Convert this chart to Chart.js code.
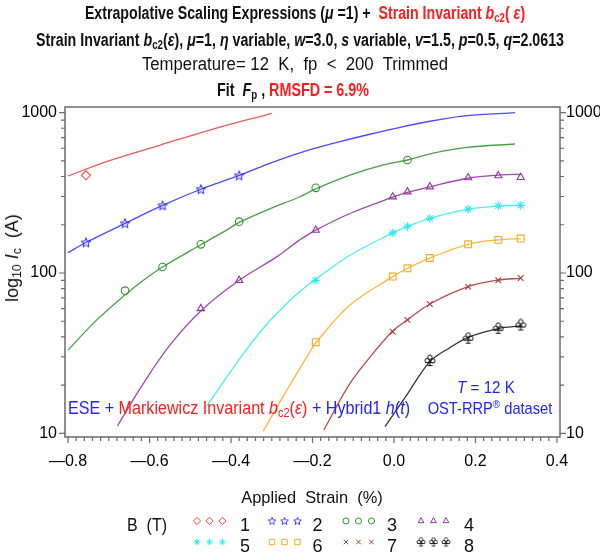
<!DOCTYPE html>
<html>
<head>
<meta charset="utf-8">
<script src="https://cdn.jsdelivr.net/npm/chart.js@4.4.1/dist/chart.umd.min.js"></script>
<style>
  html, body { margin: 0; padding: 0; background: #fff; }
  #wrap { position: relative; width: 600px; height: 553px; overflow: hidden;
          font-family: "Liberation Sans", Arial, sans-serif; }
  #chart { position: absolute; left: 0; top: 0; }
  .t { position: absolute; white-space: pre; line-height: 1; color: #111;
       transform-origin: 50% 50%; pointer-events: none; }
  .nb { font-family: "Liberation Sans Narrow", "Arial Narrow", "Liberation Sans", sans-serif; font-weight: bold; }
  .red { color: #ff1c1c; }
  .blue { color: #2323ff; }
  sub, sup { font-size: 68%; line-height: 0; }
  sub { vertical-align: -0.28em; }
  sup { vertical-align: 0.55em; }
</style>
</head>
<body>
<div id="wrap">
  <canvas id="chart" width="600" height="553"></canvas>

  <!-- titles -->
  <div class="t nb" data-cx="305" data-base="19" data-w="440" data-fs="18">Extrapolative Scaling Expressions (<i>μ</i> =1) +  <span class="red">Strain Invariant <i>b</i><sub>c2</sub>( <i>ε</i>)</span></div>
  <div class="t nb" data-cx="300" data-base="46" data-w="528" data-fs="18">Strain Invariant <i>b</i><sub>c2</sub>(<i>ε</i>), <i>μ</i>=1, <i>η</i> variable, <i>w</i>=3.0, <i>s</i> variable, <i>v</i>=1.5, <i>p</i>=0.5, <i>q</i>=2.0613</div>
  <div class="t" data-cx="295" data-base="70" data-w="306" data-fs="18">Temperature= 12  K,  fp  &lt;  200  Trimmed</div>
  <div class="t nb" data-cx="293" data-base="96" data-w="152" data-fs="18">Fit  <i>F</i><sub>p</sub> , <span class="red">RMSFD = 6.9%</span></div>

  <!-- annotations inside the plot -->
  <div class="t blue" data-cx="239" data-base="414" data-w="342" data-fs="18">ESE + <span class="red">Markiewicz Invariant <i>b</i><sub>c2</sub>(<i>ε</i>)</span> + Hybrid1 <i>h</i>(<i>t</i>)</div>
  <div class="t blue" data-cx="486" data-base="393" data-w="58" data-fs="17"><i>T</i> = 12 K</div>
  <div class="t blue" data-cx="490" data-base="414" data-w="125" data-fs="17">OST-RRP<sup>®</sup> dataset</div>

  <!-- axis titles -->
  <div class="t" data-cx="312" data-base="503" data-w="141" data-fs="17">Applied  Strain  (%)</div>
  <div class="t" id="ytitle" data-cx="11.5" data-cy="258" data-w="88" data-fs="18">log<sub>10</sub> <i>I</i><sub>c</sub>  (A)</div>

  <!-- legend text -->
  <div class="t" data-cx="147" data-base="531" data-w="40" data-fs="18">B  (T)</div>
  <div id="legendNums"></div>
</div>

<script>
// B fields (T)
const fieldLabels = ['1', '2', '3', '4', '5', '6', '7', '8'];

// measured points, applied strain (%) and Ic (A), one row per field
const measStrain = [
  [-0.756],
  [-0.756, -0.660, -0.568, -0.474, -0.380],
  [-0.660, -0.568, -0.474, -0.380, -0.192, 0.033],
  [-0.474, -0.380, -0.192, -0.003, 0.033, 0.088, 0.182, 0.256, 0.311],
  [-0.192, -0.003, 0.033, 0.088, 0.182, 0.256, 0.311],
  [-0.192, -0.003, 0.033, 0.088, 0.182, 0.256, 0.311],
  [-0.003, 0.033, 0.088, 0.182, 0.256, 0.311],
  [0.088, 0.182, 0.256, 0.311],
];
const measIc = [
  [407],
  [155, 204, 264, 333, 406],
  [77.6, 109, 151, 209, 340, 507],
  [60, 90, 185, 299, 321, 345, 393, 405, 395],
  [90, 178, 195, 219, 250, 262, 264],
  [37, 95, 107, 124, 151, 161, 164],
  [43, 51, 64, 82, 90, 93],
  [28.4, 39.2, 45.2, 47.4],
];

// fitted curves
const fitStrain = [
  [-0.80, -0.70, -0.574, -0.452, -0.30],
  [-0.80, -0.756, -0.66, -0.568, -0.474, -0.38, -0.31, -0.231, -0.149, -0.067, 0.015, 0.096, 0.178, 0.297],
  [-0.80, -0.738, -0.66, -0.615, -0.568, -0.474, -0.411, -0.38, -0.312, -0.231, -0.192, -0.108, -0.026, 0.033, 0.096, 0.178, 0.297],
  [-0.679, -0.615, -0.55, -0.474, -0.38, -0.288, -0.231, -0.192, -0.108, -0.003, 0.033, 0.088, 0.182, 0.256, 0.311],
  [-0.46, -0.394, -0.329, -0.263, -0.206, -0.192, -0.108, -0.003, 0.033, 0.088, 0.182, 0.256, 0.311],
  [-0.321, -0.263, -0.206, -0.192, -0.108, -0.003, 0.033, 0.088, 0.182, 0.256, 0.311],
  [-0.172, -0.108, -0.051, -0.003, 0.033, 0.088, 0.182, 0.256, 0.311],
  [-0.022, 0.031, 0.088, 0.137, 0.182, 0.256, 0.311],
];
const fitIc = [
  [403, 500, 628, 780, 991],
  [134, 155, 204, 264, 333, 406, 478, 562, 644, 726, 811, 891, 958, 1000],
  [33, 48.5, 73, 90, 109, 150, 185, 207, 247, 299, 335, 408, 472, 507, 559, 608, 638],
  [11.1, 20.5, 35.5, 58, 90, 126, 161, 185, 235, 297, 318, 345, 390, 408, 414],
  [14.7, 25.7, 42.7, 64.6, 86.3, 91.4, 129, 178, 195, 219, 250, 262, 264],
  [10.3, 18.6, 32.3, 36.7, 63.1, 94.9, 107, 124, 151, 161, 164],
  [10.5, 20.5, 31.6, 43.5, 51, 64.1, 82.3, 90.4, 92.7],
  [11.0, 17.3, 28.0, 34.2, 39.7, 45.0, 46.7],
];

const xTickValues = [-0.8, -0.6, -0.4, -0.2, 0, 0.2, 0.4];
const yTickValues = [10, 100, 1000];

// ---- styling ----
const markColors = ['#f04848', '#2424f0', '#2f942f', '#9634a6', '#2ee8ee', '#f7a92a', '#ac3c3c', '#111111'];
const lineColors = ['#ee5a5a', '#4a4aff', '#48a048', '#a048b0', '#48f2f2', '#ffb838', '#b44c4c', '#333333'];
const markRadius = [4.5, 5, 3.8, 4.2, 4.2, 4.8, 4, 5];

function makeStar(color) {
  const c = document.createElement('canvas');
  c.width = 12; c.height = 12;
  const g = c.getContext('2d');
  g.strokeStyle = color; g.lineWidth = 1;
  g.beginPath();
  for (let k = 0; k < 10; k++) {
    const r = k % 2 ? 2.1 : 5;
    const a = -Math.PI / 2 + k * Math.PI / 5;
    const px = 6 + r * Math.cos(a), py = 6.4 + r * Math.sin(a);
    k ? g.lineTo(px, py) : g.moveTo(px, py);
  }
  g.closePath(); g.stroke();
  return c;
}
function makeClub(color) {
  const c = document.createElement('canvas');
  c.width = 12; c.height = 13;
  const g = c.getContext('2d');
  g.strokeStyle = color; g.lineWidth = 1;
  [[6, 3.2], [3.2, 6.6], [8.8, 6.6]].forEach(([cx, cy]) => {
    g.beginPath(); g.arc(cx, cy, 2.2, 0, Math.PI * 2); g.stroke();
  });
  g.beginPath();
  g.moveTo(6, 5.5); g.lineTo(6, 11.5);
  g.moveTo(3.5, 11.5); g.lineTo(8.5, 11.5);
  g.moveTo(1.5, 8.5); g.lineTo(10.5, 8.5);
  g.stroke();
  return c;
}
const pointStyles = ['rectRot', makeStar(markColors[1]), 'circle', 'triangle', 'star', 'rect', 'crossRot', makeClub(markColors[7])];

const datasets = [];
measStrain.forEach((xs, i) => {
  datasets.push({
    label: 'B = ' + fieldLabels[i] + ' T',
    data: xs.map((x, j) => ({ x, y: measIc[i][j] })),
    showLine: false,
    pointStyle: pointStyles[i],
    pointRadius: markRadius[i],
    pointBorderColor: markColors[i],
    pointBackgroundColor: 'rgba(0,0,0,0)',
    pointBorderWidth: 1.1,
  });
});
fitStrain.forEach((xs, i) => {
  datasets.push({
    label: 'fit ' + fieldLabels[i],
    data: xs.map((x, j) => ({ x, y: fitIc[i][j] })),
    showLine: true,
    pointRadius: 0,
    borderColor: lineColors[i],
    borderWidth: 1.3,
    tension: 0.35,
  });
});

// legend marker positions (layout only)
const legendCols = [[197, 209.5, 222.5], [272, 284.5, 297.5], [346, 358.5, 371.5], [421, 433.5, 446]];
const legendRows = [521, 542];
const legendNumX = [245, 317.5, 392, 469];
const legendNumBase = [531, 552];

function drawMarker(ctx, style, color, r, x, y) {
  ctx.save();
  ctx.strokeStyle = color;
  ctx.fillStyle = 'rgba(0,0,0,0)';
  ctx.lineWidth = 1;
  if (style instanceof HTMLCanvasElement) {
    const s = 0.8;
    ctx.drawImage(style, x - style.width * s / 2, y - style.height * s / 2, style.width * s, style.height * s);
  } else if (Chart.helpers && Chart.helpers.drawPoint) {
    Chart.helpers.drawPoint(ctx, { pointStyle: style, radius: r, borderWidth: 1, rotation: 0 }, x, y);
  }
  ctx.restore();
}

const framePlugin = {
  id: 'frame',
  beforeDatasetsDraw(chart) {
    const { ctx, chartArea: a, scales } = chart;
    const xs = scales.x, ys = scales.y;
    ctx.save();
    ctx.strokeStyle = '#6a6a6a';
    ctx.lineWidth = 1.5;
    ctx.strokeRect(a.left, a.top, a.right - a.left, a.bottom - a.top);
    ctx.lineWidth = 1.2;
    ctx.beginPath();
    for (let dec = 10; dec <= 1000; dec *= 10) {
      for (let m = 1; m <= 9; m++) {
        const v = dec * m;
        if (v > 1000) break;
        const py = ys.getPixelForValue(v);
        const len = m === 1 ? 6 : 4;
        ctx.moveTo(a.left, py); ctx.lineTo(a.left - len, py);
        ctx.moveTo(a.right, py); ctx.lineTo(a.right + len, py);
      }
    }
    for (let k = -40; k <= 20; k++) {
      const px = xs.getPixelForValue(k * 0.02);
      const len = k % 10 === 0 ? 6 : 4;
      ctx.moveTo(px, a.bottom); ctx.lineTo(px, a.bottom + len);
    }
    ctx.stroke();
    ctx.restore();
  },
  afterDraw(chart) {
    const ctx = chart.ctx;
    legendRows.forEach((ry, row) => {
      legendCols.forEach((cols, col) => {
        const i = row * 4 + col;
        cols.forEach(cx => drawMarker(ctx, pointStyles[i], markColors[i], markRadius[i] * 0.8, cx, ry));
      });
    });
  },
};

const tickFont = { family: '"Liberation Sans", Arial, sans-serif', size: 16 };
const yCommon = {
  type: 'logarithmic',
  min: 9.48,
  max: 1085.5,
  grid: { display: false, drawTicks: false },
  border: { display: false },
  afterBuildTicks: (s) => { s.ticks = yTickValues.map(v => ({ value: v })); },
};

new Chart(document.getElementById('chart'), {
  type: 'scatter',
  data: { datasets },
  options: {
    responsive: false,
    devicePixelRatio: 1,
    animation: false,
    layout: { padding: { top: 107, bottom: 76, left: 0, right: 0 } },
    plugins: { legend: { display: false }, tooltip: { enabled: false }, title: { display: false } },
    scales: {
      x: {
        type: 'linear',
        min: -0.8074,
        max: 0.4074,
        grid: { display: false, drawTicks: false },
        border: { display: false },
        afterBuildTicks: (s) => { s.ticks = xTickValues.map(v => ({ value: v })); },
        afterFit: (s) => { s.height = 40; },
        ticks: {
          font: tickFont, color: '#000', padding: 15, autoSkip: false, maxRotation: 0,
          callback: (v) => (v < 0 ? '\u2014' : '') + Math.abs(v).toFixed(1),
        },
      },
      y: Object.assign({}, yCommon, {
        position: 'left',
        afterFit: (s) => { s.width = 65; },
        ticks: { font: tickFont, color: '#000', padding: 8, callback: (v) => String(v) },
      }),
      y2: Object.assign({}, yCommon, {
        position: 'right',
        afterFit: (s) => { s.width = 40; },
        ticks: { font: tickFont, color: '#000', padding: 6, callback: (v) => String(v) },
      }),
    },
  },
  plugins: [framePlugin],
});

// legend numbers
const numBox = document.getElementById('legendNums');
fieldLabels.forEach((lab, i) => {
  const d = document.createElement('div');
  d.className = 't';
  d.textContent = lab;
  d.dataset.cx = legendNumX[i % 4];
  d.dataset.base = legendNumBase[Math.floor(i / 4)];
  d.dataset.fs = 18;
  numBox.appendChild(d);
});

// place and squeeze the html text to the widths seen in the picture
function placeTexts() {
  document.querySelectorAll('.t').forEach(el => {
    const fs = +el.dataset.fs;
    el.style.fontSize = fs + 'px';
    el.style.transform = 'none';
    const w = el.offsetWidth;
    const s = el.dataset.w ? (+el.dataset.w / w) : 1;
    if (el.dataset.cy) {
      el.style.left = el.dataset.cx + 'px';
      el.style.top = el.dataset.cy + 'px';
      el.style.transform = `translate(-50%, -50%) rotate(-90deg) scaleX(${s})`;
    } else {
      el.style.left = el.dataset.cx + 'px';
      el.style.top = (+el.dataset.base - 0.846 * fs) + 'px';
      el.style.transform = `translateX(-50%) scaleX(${s})`;
    }
  });
}
placeTexts();
if (document.fonts && document.fonts.ready) document.fonts.ready.then(placeTexts);
</script>
</body>
</html>
